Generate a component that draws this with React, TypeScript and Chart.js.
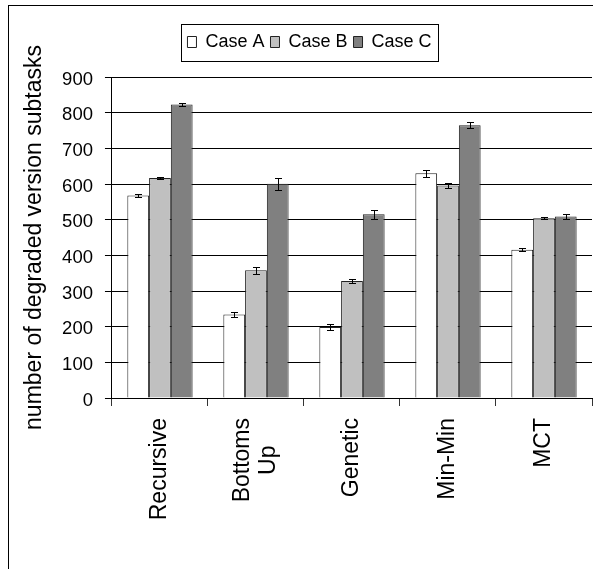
import React, { useEffect, useRef } from "react";
import { Chart, registerables } from "chart.js";

Chart.register(...registerables);

// ---- data ----
const categoryLines: string[][] = [["Recursive"], ["Bottoms", "Up"], ["Genetic"], ["Min-Min"], ["MCT"]];
const categories = categoryLines.map((l) => l.join(" "));
const seriesNames = ["Case A", "Case B", "Case C"];
const caseA = [568, 234, 199, 630, 416];
const caseB = [617, 358, 328, 596, 504];
const caseC = [823, 601, 515, 765, 509];
const errA = [4, 8, 8, 9, 4];
const errB = [2, 10, 6, 8, 3];
const errC = [4, 17, 13, 9, 8];
const yMin = 0;
const yMax = 900;
const yStep = 100;
const yTitle = "number of degraded version subtasks";

const FONT = "'Liberation Sans', Arial, sans-serif";
const fills = ["#ffffff", "#c0c0c0", "#808080"];
const values = [caseA, caseB, caseC];
const errors = [errA, errB, errC];

const legendSpacer = {
  id: "legendSpacer",
  beforeLayout(chart: any) {
    const lg = chart.legend;
    if (lg && !lg.__patched) {
      const orig = lg.fit;
      lg.fit = function () {
        orig.call(this);
        this.height += 16;
      };
      lg.__patched = true;
    }
  },
  afterLayout(chart: any) {
    const lg = chart.legend;
    if (lg) {
      lg.left += 5;
      lg.right += 5;
    }
  },
  afterDraw(chart: any) {
    const lg = chart.legend;
    if (!lg || !lg.legendHitBoxes || !lg.legendHitBoxes.length) return;
    const hb = lg.legendHitBoxes;
    let l = Infinity, r = -Infinity;
    hb.forEach((h: any) => {
      l = Math.min(l, h.left);
      r = Math.max(r, h.left + h.width);
    });
    const ctx = chart.ctx;
    const top = Math.round(hb[0].top - 9) + 0.5;
    const bottom = Math.round(hb[0].top + hb[0].height + 10) + 0.5;
    const left = Math.round(l - 6) + 0.5;
    const right = Math.round(r + 6) + 0.5;
    ctx.save();
    ctx.strokeStyle = "#000";
    ctx.lineWidth = 1;
    ctx.strokeRect(left, top, right - left, bottom - top);
    ctx.restore();
  },
};

const errorBars = {
  id: "errorBars",
  afterDatasetsDraw(chart: any) {
    const ctx = chart.ctx;
    const y = chart.scales.y;
    ctx.save();
    ctx.strokeStyle = "#000";
    ctx.lineWidth = 1;
    chart.data.datasets.forEach((_: any, d: number) => {
      const meta = chart.getDatasetMeta(d);
      meta.data.forEach((bar: any, i: number) => {
        const v = values[d][i];
        const e = errors[d][i];
        const x = Math.round(bar.x) + 0.5;
        const t = Math.round(y.getPixelForValue(v + e)) + 0.5;
        const b = Math.round(y.getPixelForValue(v - e)) + 0.5;
        ctx.beginPath();
        ctx.moveTo(x, t);
        ctx.lineTo(x, b);
        ctx.moveTo(x - 3.5, t);
        ctx.lineTo(x + 3.5, t);
        ctx.moveTo(x - 3.5, b);
        ctx.lineTo(x + 3.5, b);
        ctx.stroke();
      });
    });
    ctx.restore();
  },
};

const xLabels = {
  id: "xLabels",
  afterDraw(chart: any) {
    const ctx = chart.ctx;
    const xs = chart.scales.x;
    const yTop = chart.chartArea.bottom + 20;
    const lh = 26;
    ctx.save();
    ctx.font = `23px ${FONT}`;
    ctx.fillStyle = "#000";
    ctx.textAlign = "center";
    ctx.textBaseline = "middle";
    categoryLines.forEach((lines, i) => {
      const x = xs.getPixelForValue(i);
      const maxW = Math.max(...lines.map((s) => ctx.measureText(s).width));
      ctx.save();
      ctx.translate(x, yTop);
      ctx.rotate(-Math.PI / 2);
      lines.forEach((s, j) => {
        const v = (j - (lines.length - 1) / 2) * lh;
        ctx.fillText(s, -maxW / 2, v);
      });
      ctx.restore();
    });
    ctx.restore();
  },
};

export default function App() {
  const ref = useRef<HTMLCanvasElement | null>(null);

  useEffect(() => {
    if (!ref.current) return;
    const chart = new Chart(ref.current, {
      type: "bar",
      data: {
        labels: categories,
        datasets: seriesNames.map((name, d) => ({
          label: name,
          data: values[d],
          backgroundColor: fills[d],
          borderColor: "#222",
          borderWidth: 1,
          barPercentage: 1,
          categoryPercentage: 0.68,
        })),
      },
      options: {
        animation: false,
        responsive: true,
        maintainAspectRatio: false,
        layout: { padding: { left: 8, right: 19, top: 21, bottom: 198 } },
        plugins: {
          legend: {
            display: true,
            position: "top",
            labels: {
              color: "#000",
              font: { family: FONT, size: 18 },
              boxWidth: 9,
              boxHeight: 11,
              padding: 6,
            },
          },
          tooltip: { enabled: false },
        },
        scales: {
          x: {
            offset: true,
            grid: {
              display: true,
              offset: true,
              drawOnChartArea: false,
              drawTicks: true,
              tickLength: 8,
              color: "#333",
            },
            border: { display: true, color: "#000", width: 1 },
            ticks: { display: false },
          },
          y: {
            min: yMin,
            max: yMax,
            ticks: {
              stepSize: yStep,
              color: "#000",
              font: { family: FONT, size: 18.5 },
              padding: 12,
              labelOffset: 2.5,
            },
            grid: { color: "#000", lineWidth: 1, tickLength: 7, drawTicks: true },
            border: { display: true, color: "#000", width: 1 },
            title: {
              display: true,
              text: yTitle,
              color: "#000",
              font: { family: FONT, size: 23 },
              padding: { top: 4, bottom: 1.5 },
            },
          },
        },
      },
      plugins: [legendSpacer, errorBars, xLabels],
    });
    return () => chart.destroy();
  }, []);

  return (
    <div style={{ position: "fixed", left: 0, top: 0, width: "100vw", height: "100vh", overflow: "hidden", background: "#fff" }}>
      <div
        style={{
          position: "absolute",
          left: 8,
          top: 5,
          width: 604,
          height: 600,
          border: "1px solid #000",
          boxSizing: "border-box",
          background: "#fff",
        }}
      >
        <div style={{ position: "relative", width: 602, height: 598 }}>
          <canvas ref={ref} />
        </div>
      </div>
    </div>
  );
}
